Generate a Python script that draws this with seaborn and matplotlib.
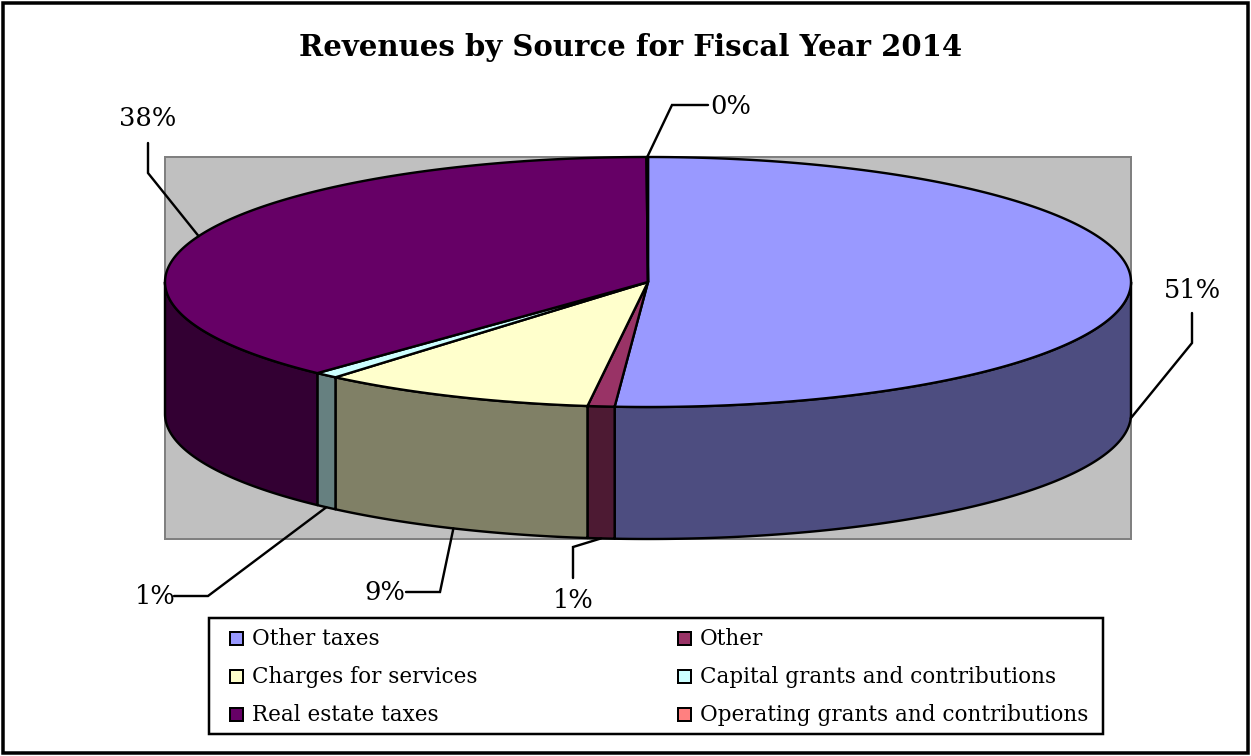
import numpy as np
import matplotlib
matplotlib.use("Agg")
import matplotlib.pyplot as plt
import seaborn as sns
from matplotlib.patches import Polygon, Rectangle
from matplotlib.colors import to_rgb

# Revenue shares (percent of total), in the order the slices run clockwise from 12 o'clock
categories = [
    "Other taxes",
    "Other",
    "Charges for services",
    "Capital grants and contributions",
    "Real estate taxes",
    "Operating grants and contributions",
]
shares = [51.1, 0.9, 9.2, 0.8, 37.95, 0.05]
top_colors = ["#9999FF", "#993366", "#FFFFCC", "#CCFFFF", "#660066", "#FF8080"]
title = "Revenues by Source for Fiscal Year 2014"

sns.set_theme(style="white")
plt.rcParams["font.family"] = ["DejaVu Serif"]
plt.rcParams["text.color"] = "black"

palette = sns.color_palette(top_colors)
side_palette = [tuple(0.5 * c for c in to_rgb(col)) for col in palette]

W, H = 1251, 756
fig = plt.figure(figsize=(W / 100, H / 100), dpi=100)
ax = fig.add_axes([0, 0, 1, 1])
ax.set_xlim(0, W)
ax.set_ylim(H, 0)
ax.axis("off")

PX = 0.72  # points per pixel at 100 dpi

# outer chart frame
ax.add_patch(Rectangle((3, 3), W - 6, H - 6, fill=False, edgecolor="black",
                       lw=3.5 * PX, zorder=1))

ax.text(631, 47, title, ha="center", va="center", fontsize=21,
        fontweight="bold", zorder=5)

# plot area behind the pie
CX, CY, RX, RY, DEPTH = 648, 282, 483, 125, 132
ax.add_patch(Rectangle((CX - RX, CY - RY), 2 * RX, RY + DEPTH + RY,
                       facecolor="#C0C0C0", edgecolor="#808080", lw=2 * PX,
                       zorder=1))


def ellipse_pt(theta, dy=0.0):
    t = np.radians(theta)
    return CX + RX * np.sin(t), CY - RY * np.cos(t) + dy


bounds = np.concatenate([[0.0], np.cumsum(shares) / np.sum(shares) * 360.0])
EDGE = dict(edgecolor="black", lw=2.4 * PX, joinstyle="round")

# front walls of the slices
for i in range(len(shares)):
    lo, hi = max(bounds[i], 90.0), min(bounds[i + 1], 270.0)
    if hi <= lo:
        continue
    ts = np.linspace(lo, hi, 200)
    upper = [ellipse_pt(t) for t in ts]
    lower = [ellipse_pt(t, DEPTH) for t in ts[::-1]]
    ax.add_patch(Polygon(upper + lower, closed=True, facecolor=side_palette[i],
                         zorder=2, **EDGE))

# top faces
for i in range(len(shares)):
    ts = np.linspace(bounds[i], bounds[i + 1], 300)
    pts = [(CX, CY)] + [ellipse_pt(t) for t in ts]
    ax.add_patch(Polygon(pts, closed=True, facecolor=palette[i], zorder=3,
                         **EDGE))

# percentage labels with leader lines: text position and elbow points
label_layout = {
    "Other taxes": ((1192, 290), [(1192, 313), (1192, 343)]),
    "Other": ((573, 600), [(573, 578), (573, 547)]),
    "Charges for services": ((385, 592), [(406, 592), (440, 592)]),
    "Capital grants and contributions": ((155, 596), [(174, 596), (208, 596)]),
    "Real estate taxes": ((148, 119), [(148, 143), (148, 173)]),
    "Operating grants and contributions": ((731, 107), [(708, 105), (672, 105)]),
}

total = np.sum(shares)
for i, cat in enumerate(categories):
    mid = 0.5 * (bounds[i] + bounds[i + 1])
    front = 90.0 < mid < 270.0
    anchor = ellipse_pt(mid, DEPTH if front else 0.0)
    (tx, ty), elbow = label_layout[cat]
    path = elbow + [anchor]
    xs, ys = zip(*path)
    ax.plot(xs, ys, color="black", lw=2.4 * PX, zorder=4,
            solid_joinstyle="miter")
    pct = f"{round(shares[i] / total * 100):.0f}%"
    ax.text(tx, ty, pct, ha="center", va="center", fontsize=18.5, zorder=5)

# legend
ax.add_patch(Rectangle((209, 618), 1103 - 209, 734 - 618, facecolor="white",
                       edgecolor="black", lw=2.5 * PX, zorder=3))
rows_y = [638, 676, 714]
cols_x = [230, 678]
SQ = 13
for i, cat in enumerate(categories):
    r, c = i // 2, i % 2
    x0, y0 = cols_x[c], rows_y[r]
    ax.add_patch(Rectangle((x0, y0 - SQ / 2), SQ, SQ, facecolor=palette[i],
                           edgecolor="black", lw=2 * PX, zorder=4))
    ax.text(x0 + SQ + 9, y0 + 1, cat, ha="left", va="center", fontsize=15.5,
            zorder=5)

fig.savefig("out.png", dpi=100)
